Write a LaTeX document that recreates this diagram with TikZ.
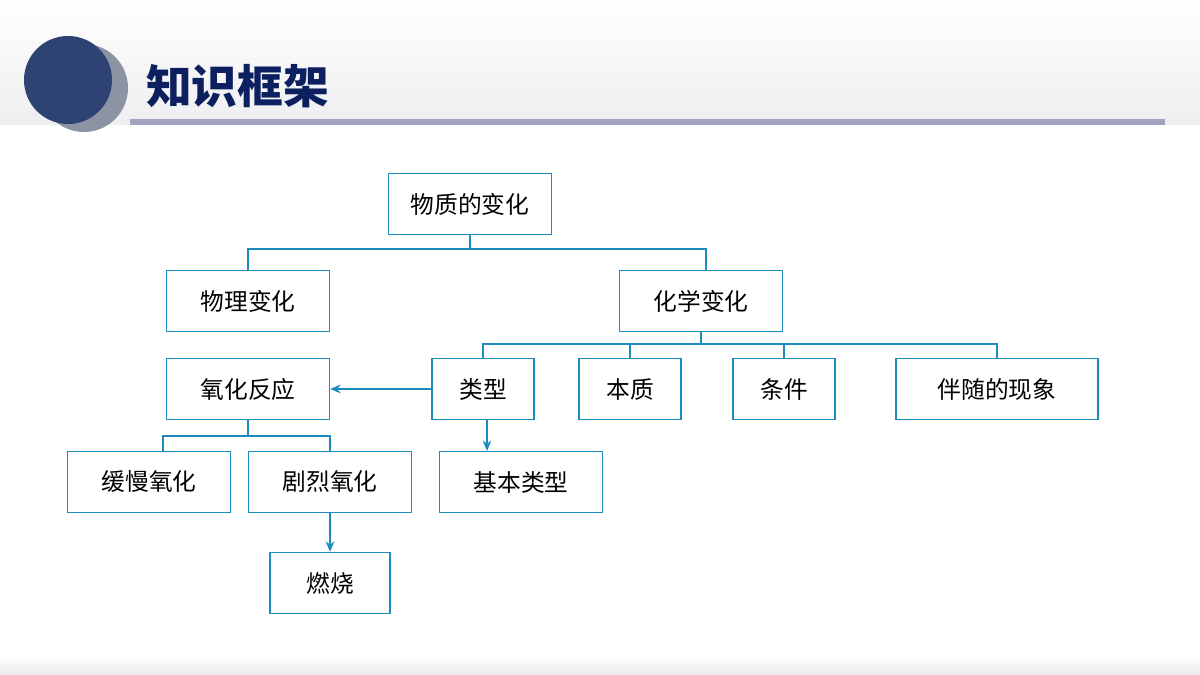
\documentclass[tikz,border=0pt]{standalone}
\usepackage{fontspec}
\newfontfamily\cjk{Noto Sans CJK SC}
\usetikzlibrary{arrows.meta}
\definecolor{linkblue}{RGB}{28,140,190}
\definecolor{navy}{RGB}{46,67,116}
\definecolor{titleblue}{RGB}{12,32,96}
\tikzset{
  box/.style={draw=linkblue,thick,minimum height=1.22cm,inner sep=0pt,font=\cjk\fontsize{13.5}{16}\selectfont},
  link/.style={linkblue,thick},
  arr/.style={link,-{Stealth[length=6pt,width=5pt]}}
}
\begin{document}
\begin{tikzpicture}[x=0.02cm,y=-0.02cm]
  \useasboundingbox (0,0) rectangle (1200,675);
  % header and footer bands
  \shade[top color=white,bottom color=blue!8!gray!12] (0,0) rectangle (1200,125);
  \fill[blue!20!gray!60] (130,119) rectangle (1165,125);
  \shade[top color=white,bottom color=blue!8!gray!15] (0,655) rectangle (1200,675);
  \fill[navy!45!gray!70] (84,88) circle (44);
  \fill[navy] (68,80) circle (44);
  \node[anchor=west,text=titleblue,font=\cjk\bfseries\fontsize{26}{30}\selectfont] (title) at (140,86) {知识框架};
  % boxes
  \node[box,minimum width=3.26cm] (matter) at (470,204) {物质的变化};
  \node[box,minimum width=3.26cm] (phys) at (248,301) {物理变化};
  \node[box,minimum width=3.26cm] (chem) at (701,301) {化学变化};
  \node[box,minimum width=3.26cm] (oxid) at (248,389) {氧化反应};
  \node[box,minimum width=2.04cm] (kind) at (483,389) {类型};
  \node[box,minimum width=2.04cm] (nature) at (630,389) {本质};
  \node[box,minimum width=2.04cm] (cond) at (784,389) {条件};
  \node[box,minimum width=4.04cm] (phen) at (997,389) {伴随的现象};
  \node[box,minimum width=3.26cm] (slow) at (149,482) {缓慢氧化};
  \node[box,minimum width=3.26cm] (fast) at (330,482) {剧烈氧化};
  \node[box,minimum width=3.26cm] (basic) at (521,482) {基本类型};
  \node[box,minimum width=2.4cm] (burn) at (330,583) {燃烧};
  % connectors
  \draw[link] (matter.south) -- ++(0,14) -| (phys.north);
  \draw[link] (matter.south) ++(0,14) -| (706,270);
  \draw[link] (chem.south) -- ++(0,12) -| (kind.north);
  \draw[link] (chem.south) ++(0,12) -| (nature.north);
  \draw[link] (chem.south) ++(0,12) -| (cond.north);
  \draw[link] (chem.south) ++(0,12) -| (phen.north);
  \draw[link] (oxid.south) -- ++(0,16) -| (163,451);
  \draw[link] (oxid.south) ++(0,16) -| (fast.north);
  \draw[arr] (kind.west) -- (oxid.east);
  \draw[arr] (487,419) -- (487,451);
  \draw[arr] (fast.south) -- (burn.north);
\end{tikzpicture}
\end{document}
